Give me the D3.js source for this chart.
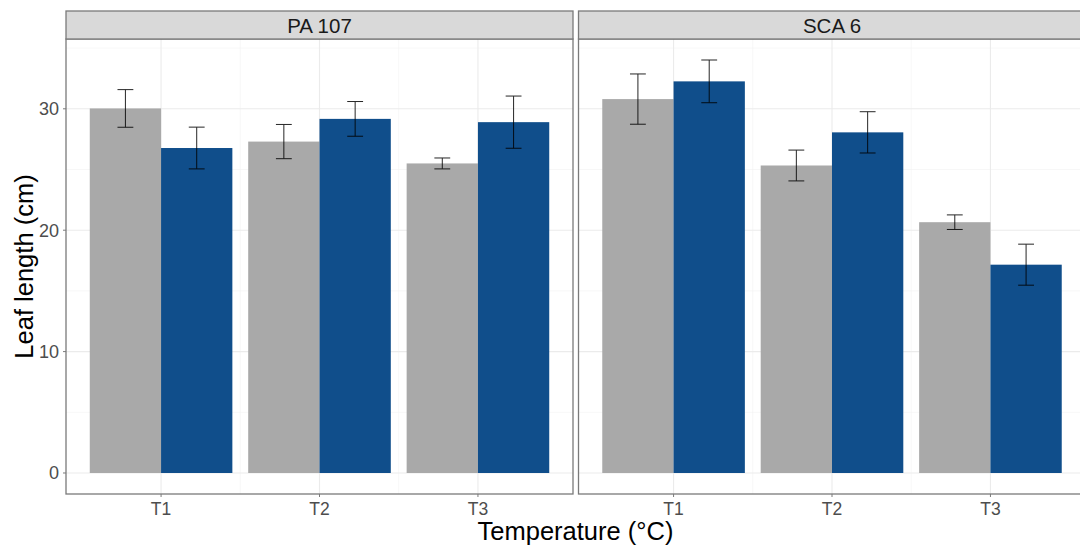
<!DOCTYPE html>
<html><head><meta charset="utf-8">
<script src="https://cdn.jsdelivr.net/npm/d3@7"></script>
<style>body{margin:0;background:#fff;overflow:hidden}svg{display:block;font-family:Arial,"Liberation Sans",sans-serif}</style>
</head><body>
<svg id="c" width="1080" height="546"></svg>
<script>
const facets = ["PA 107", "SCA 6"];
const temps = ["T1", "T2", "T3"];
const groups = ["A", "B"];
const colors = ["#A9A9A9", "#104E8B"];
// means [facet][temp][group]
const means = [
  [[30.03, 26.77], [27.3, 29.17], [25.5, 28.9]],
  [[30.8, 32.26], [25.33, 28.06], [20.66, 17.16]]
];
const errs = [
  [[1.55, 1.72], [1.41, 1.43], [0.45, 2.15]],
  [[2.07, 1.76], [1.27, 1.7], [0.6, 1.69]]
];
const yTicks = [0, 10, 20, 30];
const yMinor = [5, 15, 25, 35];

const svg = d3.select("#c");
const panelTop = 39, panelBottom = 494, stripTop = 11;
const panelX = [66, 578.5], panelW = 507;
const borderCol = "#7a7a7a";

const y = d3.scaleLinear().domain([-1.73, 35.75]).range([panelBottom, panelTop]);

facets.forEach((f, fi) => {
  const x0 = panelX[fi];
  const g = svg.append("g");
  const u = d3.scaleLinear().domain([0.4, 3.6]).range([x0, x0 + panelW]);
  // grid
  yMinor.forEach(v => g.append("line").attr("x1", x0).attr("x2", x0 + panelW).attr("y1", y(v)).attr("y2", y(v)).attr("stroke", "#F2F2F2").attr("stroke-width", 0.6));
  [1.5, 2.5].forEach(v => g.append("line").attr("x1", u(v)).attr("x2", u(v)).attr("y1", panelTop).attr("y2", panelBottom).attr("stroke", "#F2F2F2").attr("stroke-width", 0.6));
  yTicks.forEach(v => g.append("line").attr("x1", x0).attr("x2", x0 + panelW).attr("y1", y(v)).attr("y2", y(v)).attr("stroke", "#EBEBEB").attr("stroke-width", 1.1));
  temps.forEach((t, ti) => g.append("line").attr("x1", u(ti + 1)).attr("x2", u(ti + 1)).attr("y1", panelTop).attr("y2", panelBottom).attr("stroke", "#EBEBEB").attr("stroke-width", 1.1));
  // bars
  temps.forEach((t, ti) => {
    groups.forEach((gr, gi) => {
      const left = ti + 1 - 0.45 + gi * 0.45;
      const m = means[fi][ti][gi];
      g.append("rect").attr("x", u(left)).attr("width", u(left + 0.45) - u(left))
        .attr("y", y(m)).attr("height", y(0) - y(m)).attr("fill", colors[gi]);
    });
  });
  temps.forEach((t, ti) => {
    groups.forEach((gr, gi) => {
      const c = ti + 1 - 0.225 + gi * 0.45;
      const m = means[fi][ti][gi], e = errs[fi][ti][gi];
      const hi = y(m + e), lo = y(m - e);
      const eg = g.append("g").attr("stroke", "#000").attr("stroke-width", 1).attr("opacity", 0.85);
      eg.append("line").attr("x1", u(c)).attr("x2", u(c)).attr("y1", hi).attr("y2", lo);
      eg.append("line").attr("x1", u(c - 0.05)).attr("x2", u(c + 0.05)).attr("y1", hi).attr("y2", hi);
      eg.append("line").attr("x1", u(c - 0.05)).attr("x2", u(c + 0.05)).attr("y1", lo).attr("y2", lo);
    });
  });
  // border
  g.append("rect").attr("x", x0).attr("y", panelTop).attr("width", panelW).attr("height", panelBottom - panelTop)
    .attr("fill", "none").attr("stroke", borderCol).attr("stroke-width", 1.3);
  // strip
  g.append("rect").attr("x", x0).attr("y", stripTop).attr("width", panelW).attr("height", panelTop - stripTop)
    .attr("fill", "#D9D9D9").attr("stroke", borderCol).attr("stroke-width", 1.3);
  g.append("text").attr("x", x0 + panelW / 2).attr("y", 33).attr("text-anchor", "middle")
    .attr("font-size", 20.5).attr("fill", "#1A1A1A").text(f);
  // x axis ticks
  temps.forEach((t, ti) => {
    g.append("line").attr("x1", u(ti + 1)).attr("x2", u(ti + 1)).attr("y1", panelBottom).attr("y2", panelBottom + 3).attr("stroke", borderCol);
    g.append("text").attr("x", u(ti + 1)).attr("y", 515).attr("text-anchor", "middle")
      .attr("font-size", 17.5).attr("fill", "#4D4D4D").text(t);
  });
});
// y axis
yTicks.forEach(v => {
  svg.append("line").attr("x1", 63).attr("x2", 66).attr("y1", y(v)).attr("y2", y(v)).attr("stroke", borderCol);
  svg.append("text").attr("x", 59).attr("y", y(v) + 6.5).attr("text-anchor", "end")
    .attr("font-size", 18).attr("fill", "#4D4D4D").text(v);
});
svg.append("text").attr("transform", `translate(33,${(panelTop + panelBottom) / 2}) rotate(-90)`)
  .attr("text-anchor", "middle").attr("font-size", 25.5).attr("fill", "#000").text("Leaf length (cm)");
svg.append("text").attr("x", 575.5).attr("y", 540).attr("text-anchor", "middle")
  .attr("font-size", 25.5).attr("fill", "#000").text("Temperature (°C)");
</script>
</body></html>
